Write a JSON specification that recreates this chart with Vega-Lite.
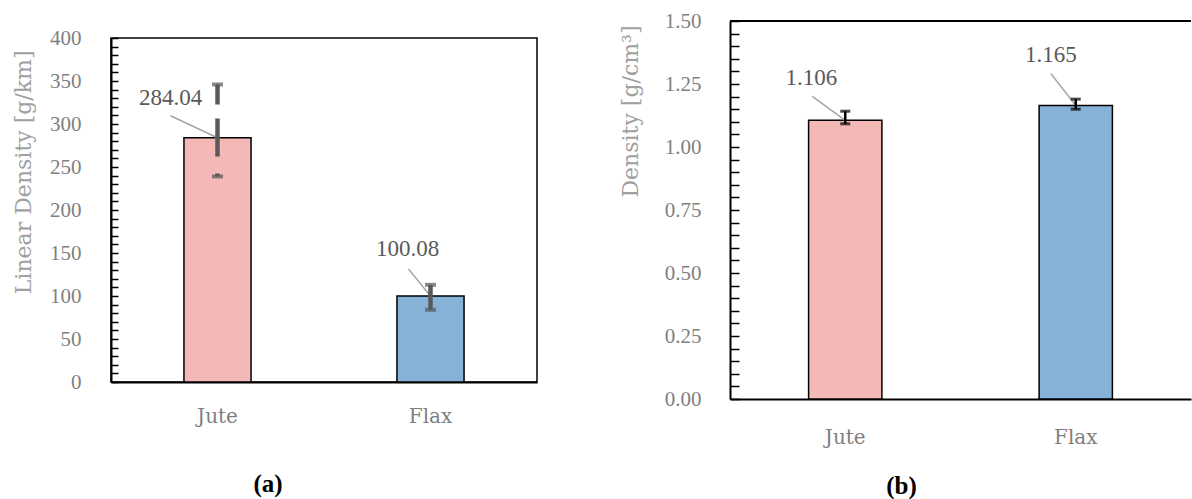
{
  "$schema": "https://vega.github.io/schema/vega-lite/v6.json",
  "background": "white",
  "padding": {"left": 11, "top": 10, "right": 0, "bottom": 0},
  "bounds": "flush",
  "center": true,
  "spacing": 193,
  "config": {"font": "Liberation Serif"},
  "hconcat": [
    {
      "width": 426,
      "height": 344,
      "view": {"stroke": "black", "strokeWidth": 1.5},
      "title": {"text": "(a)", "orient": "bottom", "anchor": "middle", "font": "Liberation Serif", "fontSize": 25, "fontWeight": "bold", "color": "black", "offset": 46, "dx": -56},
      "data": {"values": [
        {"fiber": "Jute", "value": 284.04, "lo": 239, "hi": 346},
        {"fiber": "Flax", "value": 100.08, "lo": 84, "hi": 113}
      ]},
      "resolve": {"axis": {"x": "independent", "y": "independent"}},
      "layer": [
        {
          "mark": {"type": "bar", "stroke": "black", "strokeWidth": 1.5},
          "encoding": {
            "x": {"field": "fiber", "type": "nominal", "sort": ["Jute", "Flax"],
              "scale": {"paddingInner": 0.685, "paddingOuter": 0.3425},
              "axis": {"title": null, "ticks": false, "labelAngle": 0, "labelFont": "DejaVu Serif", "labelFontSize": 20, "labelColor": "#7F7F7F", "labelPadding": 24, "domainColor": "black", "domainWidth": 2}},
            "y": {"field": "value", "type": "quantitative", "scale": {"domain": [0, 400], "nice": false},
              "axis": {"title": "Linear Density [g/km]", "grid": false,
                "values": [0,10,20,30,40,50,60,70,80,90,100,110,120,130,140,150,160,170,180,190,200,210,220,230,240,250,260,270,280,290,300,310,320,330,340,350,360,370,380,390,400],
                "labelExpr": "datum.value % 50 === 0 ? datum.label : ''",
                "labelOverlap": false,
                "tickSize": -7, "tickWidth": 1.5, "tickColor": "black",
                "domainColor": "black", "domainWidth": 2,
                "labelFont": "Liberation Serif", "labelFontSize": 21, "labelColor": "#7F7F7F", "labelPadding": 37,
                "titleFont": "DejaVu Serif", "titleFontSize": 22, "titleFontWeight": "normal", "titleColor": "#A0A0A0",
                "titleAnchor": "end", "titleY": 12, "titlePadding": 14}},
            "fill": {"field": "fiber", "type": "nominal", "scale": {"domain": ["Jute", "Flax"], "range": ["#F4B8B7", "#87B2D8"]}, "legend": null}
          }
        },
        {
          "mark": {"type": "rule", "color": "#A6A6A6", "strokeWidth": 1.5,
            "x2Offset": {"expr": "datum.fiber === 'Jute' ? -47 : -22"},
            "y2Offset": {"expr": "datum.fiber === 'Jute' ? -22 : -27"}},
          "encoding": {
            "x": {"field": "fiber", "type": "nominal", "sort": ["Jute", "Flax"], "axis": null},
            "y": {"field": "value", "type": "quantitative", "axis": null},
            "x2": {"field": "fiber"},
            "y2": {"field": "value"}
          }
        },
        {
          "mark": {"type": "rule", "color": "#595959", "strokeWidth": 4.5,
            "strokeDash": {"expr": "datum.fiber === 'Jute' ? [20,14,38,17,30] : [200,0]"}},
          "encoding": {
            "x": {"field": "fiber", "type": "nominal", "sort": ["Jute", "Flax"], "axis": null},
            "y": {"field": "hi", "type": "quantitative", "axis": null},
            "y2": {"field": "lo"}
          }
        },
        {
          "mark": {"type": "tick", "orient": "horizontal", "color": "#595959", "size": 11, "thickness": 4},
          "encoding": {
            "x": {"field": "fiber", "type": "nominal", "sort": ["Jute", "Flax"], "axis": null},
            "y": {"field": "hi", "type": "quantitative", "axis": null}
          }
        },
        {
          "mark": {"type": "tick", "orient": "horizontal", "color": "#595959", "size": 11, "thickness": 4},
          "encoding": {
            "x": {"field": "fiber", "type": "nominal", "sort": ["Jute", "Flax"], "axis": null},
            "y": {"field": "lo", "type": "quantitative", "axis": null}
          }
        },
        {
          "mark": {"type": "text", "font": "Liberation Serif", "fontSize": 23, "color": "#595959", "align": "center", "baseline": "middle",
            "dx": {"expr": "datum.fiber === 'Jute' ? -47 : -23"},
            "dy": {"expr": "datum.fiber === 'Jute' ? -40 : -47"}},
          "encoding": {
            "x": {"field": "fiber", "type": "nominal", "sort": ["Jute", "Flax"], "axis": null},
            "y": {"field": "value", "type": "quantitative", "axis": null},
            "text": {"field": "value", "type": "quantitative", "format": ".2f"}
          }
        }
      ]
    },
    {
      "width": 461,
      "height": 378,
      "view": {"stroke": null},
      "title": {"text": "(b)", "orient": "bottom", "anchor": "middle", "font": "Liberation Serif", "fontSize": 25, "fontWeight": "bold", "color": "black", "offset": 27, "dx": -59},
      "data": {"values": [
        {"fiber": "Jute", "value": 1.106, "lo": 1.092, "hi": 1.142},
        {"fiber": "Flax", "value": 1.165, "lo": 1.150, "hi": 1.190}
      ]},
      "resolve": {"axis": {"x": "independent", "y": "independent"}},
      "layer": [
        {
          "mark": {"type": "bar", "stroke": "black", "strokeWidth": 1.5},
          "encoding": {
            "x": {"field": "fiber", "type": "nominal", "sort": ["Jute", "Flax"],
              "scale": {"paddingInner": 0.682, "paddingOuter": 0.341},
              "axis": {"title": null, "ticks": false, "labelAngle": 0, "labelFont": "DejaVu Serif", "labelFontSize": 20, "labelColor": "#7F7F7F", "labelPadding": 28, "domainColor": "black", "domainWidth": 2}},
            "y": {"field": "value", "type": "quantitative", "scale": {"domain": [0, 1.5], "nice": false},
              "axis": {"title": "Density [g/cm³]", "grid": false,
                "values": [0,0.05,0.1,0.15,0.2,0.25,0.3,0.35,0.4,0.45,0.5,0.55,0.6,0.65,0.7,0.75,0.8,0.85,0.9,0.95,1,1.05,1.1,1.15,1.2,1.25,1.3,1.35,1.4,1.45,1.5],
                "labelExpr": "round(datum.value * 100) % 25 === 0 ? format(datum.value, '.2f') : ''",
                "labelOverlap": false,
                "tickSize": -9, "tickWidth": 1.5, "tickColor": "black",
                "domainColor": "black", "domainWidth": 2,
                "labelFont": "Liberation Serif", "labelFontSize": 21, "labelColor": "#7F7F7F", "labelPadding": 38,
                "titleFont": "DejaVu Serif", "titleFontSize": 22, "titleFontWeight": "normal", "titleColor": "#A0A0A0",
                "titleAnchor": "end", "titleY": 4, "titlePadding": 22}},
            "fill": {"field": "fiber", "type": "nominal", "scale": {"domain": ["Jute", "Flax"], "range": ["#F4B8B7", "#87B2D8"]}, "legend": null}
          }
        },
        {
          "mark": {"type": "rule", "color": "black", "strokeWidth": 2},
          "encoding": {"y": {"datum": 1.5, "type": "quantitative", "axis": null}}
        },
        {
          "mark": {"type": "rule", "color": "#A6A6A6", "strokeWidth": 1.5,
            "x2Offset": {"expr": "datum.fiber === 'Jute' ? -33 : -25"},
            "y2Offset": {"expr": "datum.fiber === 'Jute' ? -24 : -32"}},
          "encoding": {
            "x": {"field": "fiber", "type": "nominal", "sort": ["Jute", "Flax"], "axis": null},
            "y": {"field": "value", "type": "quantitative", "axis": null},
            "x2": {"field": "fiber"},
            "y2": {"field": "value"}
          }
        },
        {
          "mark": {"type": "rule", "color": "black", "strokeWidth": 2.5},
          "encoding": {
            "x": {"field": "fiber", "type": "nominal", "sort": ["Jute", "Flax"], "axis": null},
            "y": {"field": "hi", "type": "quantitative", "axis": null},
            "y2": {"field": "lo"}
          }
        },
        {
          "mark": {"type": "tick", "orient": "horizontal", "color": "black", "size": 10, "thickness": 3},
          "encoding": {
            "x": {"field": "fiber", "type": "nominal", "sort": ["Jute", "Flax"], "axis": null},
            "y": {"field": "hi", "type": "quantitative", "axis": null}
          }
        },
        {
          "mark": {"type": "tick", "orient": "horizontal", "color": "black", "size": 10, "thickness": 3},
          "encoding": {
            "x": {"field": "fiber", "type": "nominal", "sort": ["Jute", "Flax"], "axis": null},
            "y": {"field": "lo", "type": "quantitative", "axis": null}
          }
        },
        {
          "mark": {"type": "text", "font": "Liberation Serif", "fontSize": 23, "color": "#595959", "align": "center", "baseline": "middle",
            "dx": {"expr": "datum.fiber === 'Jute' ? -34 : -25"},
            "dy": {"expr": "datum.fiber === 'Jute' ? -42 : -50"}},
          "encoding": {
            "x": {"field": "fiber", "type": "nominal", "sort": ["Jute", "Flax"], "axis": null},
            "y": {"field": "value", "type": "quantitative", "axis": null},
            "text": {"field": "value", "type": "quantitative", "format": ".3f"}
          }
        }
      ]
    }
  ]
}
